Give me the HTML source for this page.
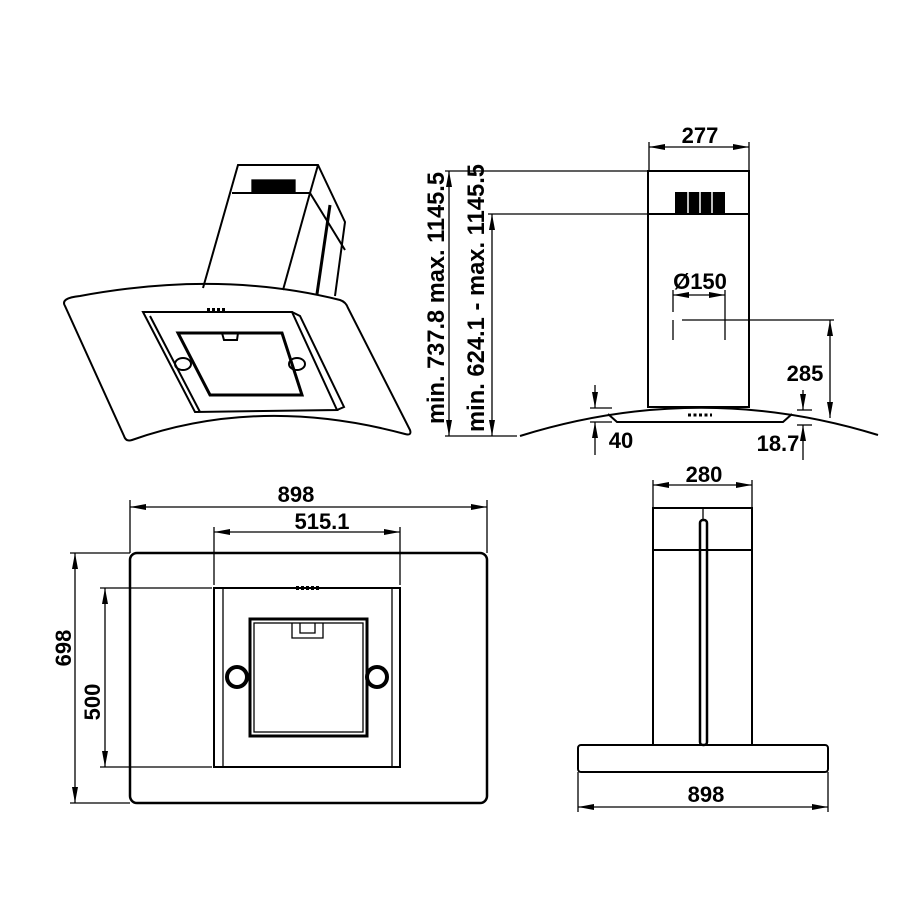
<!DOCTYPE html>
<html><head><style>html,body{margin:0;padding:0;background:#fff}svg{display:block}</style></head>
<body>
<svg width="900" height="900" viewBox="0 0 900 900" xmlns="http://www.w3.org/2000/svg" font-family="Liberation Sans, Arial, sans-serif" font-weight="bold" font-size="22">
<defs>
<marker id="a" markerWidth="16" markerHeight="6" refX="16" refY="3" orient="auto-start-reverse" markerUnits="userSpaceOnUse"><path d="M0,0 L16,3 L0,6 Z" fill="#000"/></marker>
</defs>
<g fill="none" stroke="#000" stroke-width="1.3">
<!-- top-left iso -->
<g stroke-width="2">
<path d="M65,306 Q60,298 80,296 Q220,270 340,300 Q346,302 348,308 L410,430 Q412,436 405,434 Q260,395 132,440 Q126,442 124,436 Z"/>
<path d="M203,288 L238,165 L318,165 L345,222 L335,296"/>
<path d="M232,193 L310,193 L345,250"/>
<path d="M310,193 L283,290"/>
<path d="M318,165 L310,193"/>
<path d="M330,205 L317,294" stroke-width="3"/>
<path d="M143,312 L292,312 L337,410 L195,412 Z"/>
<path d="M292,312 L300,316 L344,407 L337,410"/>
<path d="M150,316 L200,412"/>
<path d="M178,333 L282,333 L302,395 L210,395 Z" stroke-width="3"/>
<ellipse cx="183" cy="364" rx="8" ry="6"/>
<ellipse cx="297" cy="364" rx="8" ry="6"/>
<path d="M222,333 L224,340 L237,340 L238,333"/>
</g>
<rect x="252" y="180" width="43" height="13" fill="#000"/>
<path d="M207,310 L226,310" stroke-width="4" stroke-dasharray="3,2"/>

<!-- top-right -->
<g stroke-width="2">
<rect x="648" y="171" width="101" height="236"/>
<line x1="648" y1="214" x2="749" y2="214"/>
<path d="M520,436 Q700,380 878,435"/>
<path d="M608,414 L617,422 L783,422 L792,414"/>
</g>
<g fill="#000" stroke="none"><rect x="675" y="192" width="50" height="21"/></g>
<g stroke="#fff" stroke-width="1.5"><line x1="688" y1="192" x2="688" y2="213"/><line x1="700" y1="192" x2="700" y2="213"/><line x1="712" y1="192" x2="712" y2="213"/></g>
<path d="M688,415 L712,415" stroke-width="3" stroke-dasharray="3,2.5"/>
<line x1="649" y1="142" x2="649" y2="171"/><line x1="749" y1="142" x2="749" y2="171"/>
<line x1="649" y1="147" x2="749" y2="147" marker-start="url(#a)" marker-end="url(#a)"/>
<line x1="445" y1="171" x2="648" y2="171"/><line x1="488" y1="214" x2="648" y2="214"/>
<line x1="445" y1="436" x2="517" y2="436"/>
<line x1="449" y1="171" x2="449" y2="436" marker-start="url(#a)" marker-end="url(#a)"/>
<line x1="492" y1="214" x2="492" y2="436" marker-start="url(#a)" marker-end="url(#a)"/>
<line x1="673" y1="290" x2="673" y2="312"/><line x1="673" y1="320" x2="673" y2="340"/>
<line x1="725" y1="290" x2="725" y2="340"/>
<line x1="673" y1="295" x2="725" y2="295" marker-start="url(#a)" marker-end="url(#a)"/>
<line x1="682" y1="320" x2="834" y2="320"/>
<line x1="830" y1="320" x2="830" y2="418" marker-start="url(#a)" marker-end="url(#a)"/>
<line x1="590" y1="408" x2="612" y2="408"/><line x1="590" y1="422" x2="612" y2="422"/>
<line x1="595" y1="385" x2="595" y2="408" marker-end="url(#a)"/>
<line x1="595" y1="455" x2="595" y2="422" marker-end="url(#a)"/>
<line x1="797" y1="410" x2="812" y2="410"/><line x1="797" y1="425" x2="812" y2="425"/>
<line x1="803" y1="390" x2="803" y2="410" marker-end="url(#a)"/>
<line x1="803" y1="460" x2="803" y2="425" marker-end="url(#a)"/>

<!-- bottom-left -->
<rect x="130" y="553" width="357" height="250" rx="7" stroke-width="2.5"/>
<line x1="130" y1="500" x2="130" y2="553"/><line x1="487" y1="500" x2="487" y2="553"/>
<line x1="130" y1="507" x2="487" y2="507" marker-start="url(#a)" marker-end="url(#a)"/>
<line x1="214" y1="527" x2="214" y2="585"/><line x1="400" y1="527" x2="400" y2="585"/>
<line x1="214" y1="532" x2="400" y2="532" marker-start="url(#a)" marker-end="url(#a)"/>
<rect x="214" y="588" width="186" height="179" stroke-width="2"/>
<line x1="223" y1="588" x2="223" y2="767"/><line x1="392" y1="588" x2="392" y2="767"/>
<rect x="250" y="619" width="117" height="117" stroke-width="3"/>
<rect x="254" y="623" width="109" height="109"/>
<path d="M292,623 L292,638 L323,638 L323,623 M300,623 L300,633 L315,633 L315,623"/>
<path d="M296,588 L320,588" stroke-width="4" stroke-dasharray="3,2"/>
<circle cx="237" cy="677" r="10" stroke-width="4" fill="#fff"/>
<circle cx="377" cy="677" r="10" stroke-width="4" fill="#fff"/>
<line x1="70" y1="553" x2="130" y2="553"/><line x1="70" y1="803" x2="130" y2="803"/>
<line x1="75" y1="553" x2="75" y2="803" marker-start="url(#a)" marker-end="url(#a)"/>
<line x1="100" y1="588" x2="212" y2="588"/><line x1="100" y1="767" x2="212" y2="767"/>
<line x1="105" y1="588" x2="105" y2="767" marker-start="url(#a)" marker-end="url(#a)"/>

<!-- bottom-right -->
<g stroke-width="2">
<rect x="653" y="508" width="99" height="237"/>
<line x1="653" y1="550" x2="752" y2="550"/>
<rect x="578" y="745" width="250" height="27" rx="3"/>
<rect x="700" y="520" width="7" height="225" rx="3" stroke-width="2.5"/>
</g>
<line x1="703" y1="508" x2="703" y2="520"/>
<line x1="653" y1="480" x2="653" y2="508"/><line x1="752" y1="480" x2="752" y2="508"/>
<line x1="653" y1="485" x2="752" y2="485" marker-start="url(#a)" marker-end="url(#a)"/>
<line x1="578" y1="772" x2="578" y2="812"/><line x1="828" y1="772" x2="828" y2="812"/>
<line x1="578" y1="807" x2="828" y2="807" marker-start="url(#a)" marker-end="url(#a)"/>
</g>
<g fill="#000" text-anchor="middle">
<text x="700" y="143">277</text>
<text x="700" y="289">Ø150</text>
<text x="805" y="381">285</text>
<text x="621" y="448">40</text>
<text x="778" y="451">18.7</text>
<text x="296" y="502">898</text>
<text x="322" y="529">515.1</text>
<text x="704" y="482">280</text>
<text x="706" y="802">898</text>
<text transform="translate(71,648) rotate(-90)">698</text>
<text transform="translate(100,702) rotate(-90)">500</text>
<text font-size="24" textLength="252" lengthAdjust="spacingAndGlyphs" transform="translate(444,298) rotate(-90)">min. 737.8 max. 1145.5</text>
<text font-size="24" textLength="268" lengthAdjust="spacingAndGlyphs" transform="translate(484,298) rotate(-90)">min. 624.1 - max. 1145.5</text>
</g>
</svg>
</body></html>
